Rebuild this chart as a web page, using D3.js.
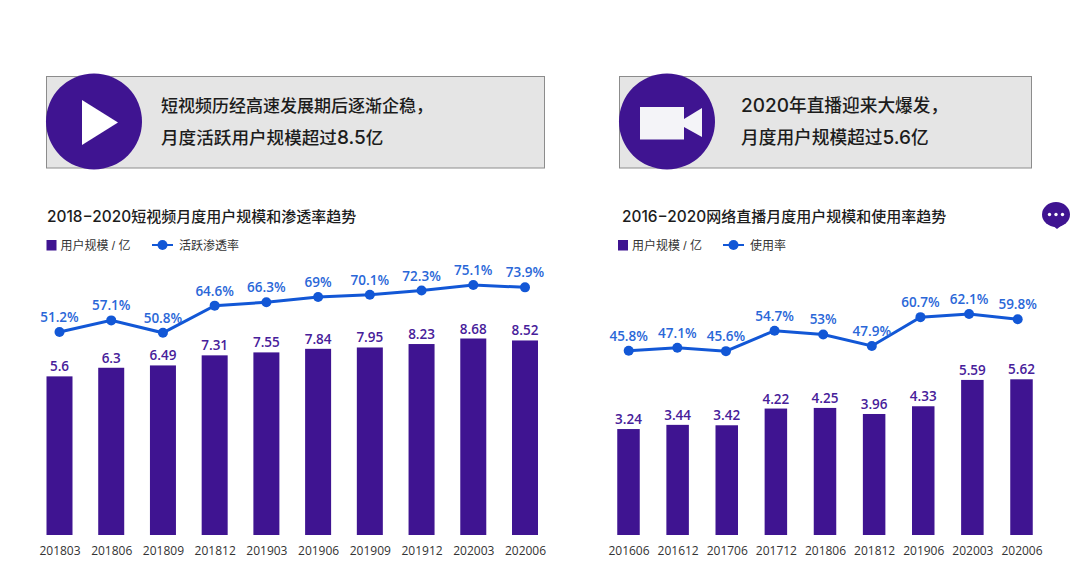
<!DOCTYPE html>
<html><head><meta charset="utf-8">
<script src="https://cdn.jsdelivr.net/npm/d3@7/dist/d3.min.js"></script>
<style>
html,body{margin:0;padding:0;background:#fff;}
svg{display:block;}
text{font-family:"Liberation Sans","Noto Sans CJK SC",sans-serif;}
.num{font-family:"Open Sans","Noto Sans",sans-serif;}
.lat{font-family:Inter,"Liberation Sans",sans-serif;}
.cjk{font-family:"Noto Sans CJK SC",sans-serif;}
</style></head><body>
<svg id="c" width="1080" height="577"></svg>
<script>
const leftMonths=["201803","201806","201809","201812","201903","201906","201909","201912","202003","202006"];
const leftUsers=[5.6,6.3,6.49,7.31,7.55,7.84,7.95,8.23,8.68,8.52];
const leftRate=[51.2,57.1,50.8,64.6,66.3,69,70.1,72.3,75.1,73.9];
const rightMonths=["201606","201612","201706","201712","201806","201812","201906","202003","202006"];
const rightUsers=[3.24,3.44,3.42,4.22,4.25,3.96,4.33,5.59,5.62];
const rightRate=[45.8,47.1,45.6,54.7,53,47.9,60.7,62.1,59.8];

const PURPLE="#3f1491",BLUE="#1257d6";
const svg=d3.select("#c");

// Latin digit runs and CJK runs are set at different sizes, as in the reference
function mixed(sel,str,latSize,cjkSize){
  str.split(/([\d.\-−]+)/).filter(s=>s).forEach(s=>{
    const lat=/^[\d.\-−]+$/.test(s);
    sel.append("tspan").attr("class",lat?"lat":"cjk").attr("font-size",lat?latSize:cjkSize).text(s);
  });
}
function banner(o){
  const g=svg.append("g");
  g.append("rect").attr("x",o.x0+.5).attr("y",76.5).attr("width",o.x1-o.x0).attr("height",91.5)
    .attr("fill","#e5e5e5").attr("stroke","#8c8c8c").attr("stroke-width",1);
  g.append("circle").attr("cx",o.cx).attr("cy",121.5).attr("r",48).attr("fill",PURPLE);
  o.icon(g);
  o.lines.forEach((t,i)=>{
    const tx=g.append("text").attr("x",o.tx).attr("y",112+i*32).attr("font-weight",500).attr("fill","#1c1c1c");
    mixed(tx,t,o.lat,o.fs[i]);
  });
}
banner({x0:46,x1:544,cx:94,tx:161,fs:[17,17.6],lat:19,lines:["短视频历经高速发展期后逐渐企稳，","月度活跃用户规模超过8.5亿"],
  icon:g=>g.append("path").attr("d","M82,100L118,122.5L82,145Z").attr("fill","#fff")});
banner({x0:619,x1:1031,cx:667,tx:741,fs:[17.7,17.7],lat:19,lines:["2020年直播迎来大爆发，","月度用户规模超过5.6亿"],
  icon:g=>{g.append("rect").attr("x",640).attr("y",107).attr("width",44).attr("height",32.5).attr("fill","#f4f4f8");
    g.append("path").attr("d","M684,119L702,108V137L684,127Z").attr("fill","#f4f4f8");}});

function chart(o){
  const g=svg.append("g");
  const title=g.append("text").attr("x",o.titleX).attr("y",222).attr("font-weight",500).attr("fill","#1c1c1c");
  mixed(title,o.title,15.4,15);
  g.append("rect").attr("x",o.sqX).attr("y",240).attr("width",10).attr("height",10.5).attr("fill",PURPLE);
  g.append("text").attr("x",o.sqX+14).attr("y",250).attr("font-size",12).attr("fill","#333").text("用户规模 / 亿");
  g.append("line").attr("x1",o.legX).attr("x2",o.legX+21).attr("y1",245).attr("y2",245).attr("stroke",BLUE).attr("stroke-width",2);
  g.append("circle").attr("cx",o.legX+10.5).attr("cy",245).attr("r",5).attr("fill",BLUE);
  g.append("text").attr("x",o.legX+27).attr("y",250).attr("font-size",12).attr("fill","#333").text(o.legend);

  const x=d3.scalePoint().domain(o.months).range(o.xr);
  const xl=d3.scalePoint().domain(o.months).range(o.xl);
  const y=d3.scaleLinear().domain(o.uDom).range([535,o.uTop]);
  const r=d3.scaleLinear().domain(o.rDom).range(o.rRange);
  const bw=o.bw;
  const rows=o.months.map((m,i)=>({m,u:o.users[i],v:o.rate[i]}));

  g.selectAll(".bar").data(rows).join("rect").attr("class","bar")
    .attr("x",d=>x(d.m)-bw/2).attr("width",bw).attr("y",d=>y(d.u)).attr("height",d=>535-y(d.u)).attr("fill",PURPLE);
  g.selectAll(".bl").data(rows).join("text").attr("class","bl num").attr("text-anchor","middle")
    .attr("x",d=>x(d.m)).attr("y",d=>y(d.u)-5).attr("font-size",13.5).attr("font-weight",600).attr("fill","#47209a").text(d=>d.u);
  g.append("path").datum(rows).attr("fill","none").attr("stroke",BLUE).attr("stroke-width",3)
    .attr("d",d3.line().x(d=>xl(d.m)).y(d=>r(d.v)));
  g.selectAll(".pt").data(rows).join("circle").attr("class","pt").attr("cx",d=>xl(d.m)).attr("cy",d=>r(d.v)).attr("r",5).attr("fill",BLUE);
  g.selectAll(".ll").data(rows).join("text").attr("class","ll num").attr("text-anchor","middle")
    .attr("x",d=>xl(d.m)).attr("y",d=>r(d.v)-10).attr("font-size",13.5).attr("font-weight",600).attr("fill","#2a67d8").text(d=>d.v+"%");
  const ax=g.append("g").attr("transform","translate(0,535)").call(d3.axisBottom(x).tickSize(0).tickPadding(11));
  ax.select(".domain").remove();
  ax.selectAll("text").attr("class","num").attr("font-size",12).attr("fill","#333");
}
chart({title:"2018−2020短视频月度用户规模和渗透率趋势",titleX:47,sqX:46.5,legX:152,legend:"活跃渗透率",bw:26,
  months:leftMonths,users:leftUsers,rate:leftRate,xr:[59.5,525],xl:[59.5,525],
  uDom:[-7.3,8.68],uTop:338.5,rDom:[51.2,75.1],rRange:[332,285]});
chart({title:"2016−2020网络直播月度用户规模和使用率趋势",titleX:622,sqX:618,legX:723,legend:"使用率",bw:22.5,
  months:rightMonths,users:rightUsers,rate:rightRate,xr:[628.5,1021.5],xl:[628.7,1017.7],
  uDom:[-1.83,5.62],uTop:379.3,rDom:[45.8,62.1],rRange:[350.7,314]});

// floating chat badge
const b=svg.append("g");
b.append("ellipse").attr("cx",1056).attr("cy",214.5).attr("rx",14).attr("ry",12.5).attr("fill",PURPLE);
b.append("path").attr("d","M1052,225L1062,225L1057,229Z").attr("fill",PURPLE);
[1049.5,1056,1062.5].forEach(cx=>b.append("circle").attr("cx",cx).attr("cy",214.5).attr("r",1.7).attr("fill","#fff"));
</script>
</body></html>
